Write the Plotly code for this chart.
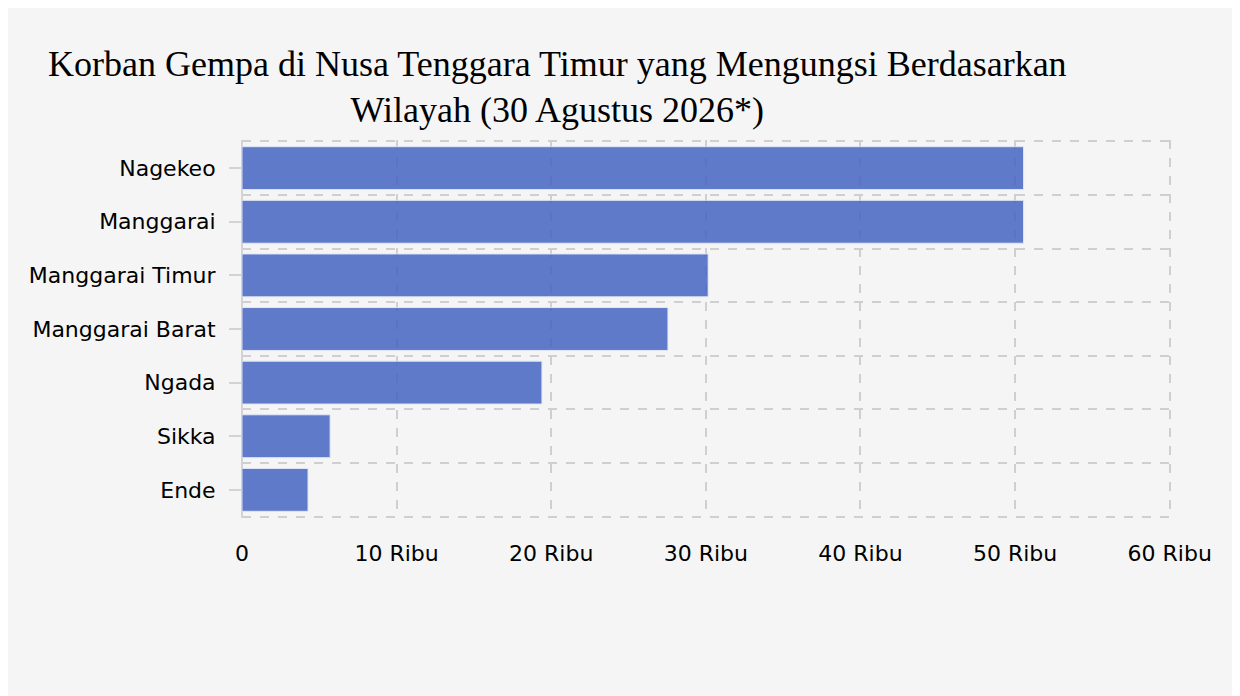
import plotly.graph_objects as go

# data
wilayah = ['Nagekeo', 'Manggarai', 'Manggarai Timur', 'Manggarai Barat',
           'Ngada', 'Sikka', 'Ende']
pengungsi = [50550, 50550, 30150, 27550, 19400, 5700, 4270]
x_tick_vals = [0, 10000, 20000, 30000, 40000, 50000, 60000]
x_tick_text = ['0', '10 Ribu', '20 Ribu', '30 Ribu', '40 Ribu', '50 Ribu', '60 Ribu']

judul = ('Korban Gempa di Nusa Tenggara Timur yang Mengungsi Berdasarkan<br>'
         'Wilayah (30 Agustus 2026*)')

# categories go top-down, so place them on numeric rows reversed
rows = list(range(len(wilayah)))[::-1]
boundaries = [r - 0.5 for r in range(len(wilayah) + 1)]

bg = '#f5f5f5'
grid = '#cfcfcf'

fig = go.Figure(go.Bar(
    x=pengungsi,
    y=rows,
    orientation='h',
    width=0.8,
    marker=dict(color='#4665c2', opacity=0.85,
                line=dict(color='#dfe5f7', width=1)),
    hoverinfo='x+text',
    hovertext=wilayah,
))

fig.update_layout(
    width=1240,
    height=696,
    paper_bgcolor=bg,
    plot_bgcolor=bg,
    margin=dict(l=234, r=77, t=132, b=186),
    showlegend=False,
    title=dict(text=judul, x=0.443, xanchor='center', y=0.903, yanchor='top',
               font=dict(family='Liberation Serif, Times New Roman, serif',
                         size=36, color='black')),
    font=dict(family='DejaVu Sans, Verdana, sans-serif', size=22, color='black'),
)

# ranges padded ~1px: plotly skips gridlines sitting right on the plot edge
fig.update_xaxes(
    range=[0, 60085],
    tickvals=x_tick_vals,
    ticktext=x_tick_text,
    showgrid=True, gridcolor=grid, griddash='dash', gridwidth=1.5,
    zeroline=True, zerolinecolor='#d3d3d3', zerolinewidth=2,
    ticks='', ticklabelstandoff=20,
)

fig.update_yaxes(
    range=[-0.525, len(wilayah) - 0.475],
    tickvals=rows,
    ticktext=wilayah,
    showgrid=False, zeroline=False,
    ticks='outside', ticklen=12, tickwidth=2, tickcolor='#d3d3d3',
    ticklabelstandoff=9,
    minor=dict(tickvals=boundaries, showgrid=True, gridcolor=grid,
               griddash='dash', gridwidth=1.5, ticks=''),
)

fig.write_html('out.html')
